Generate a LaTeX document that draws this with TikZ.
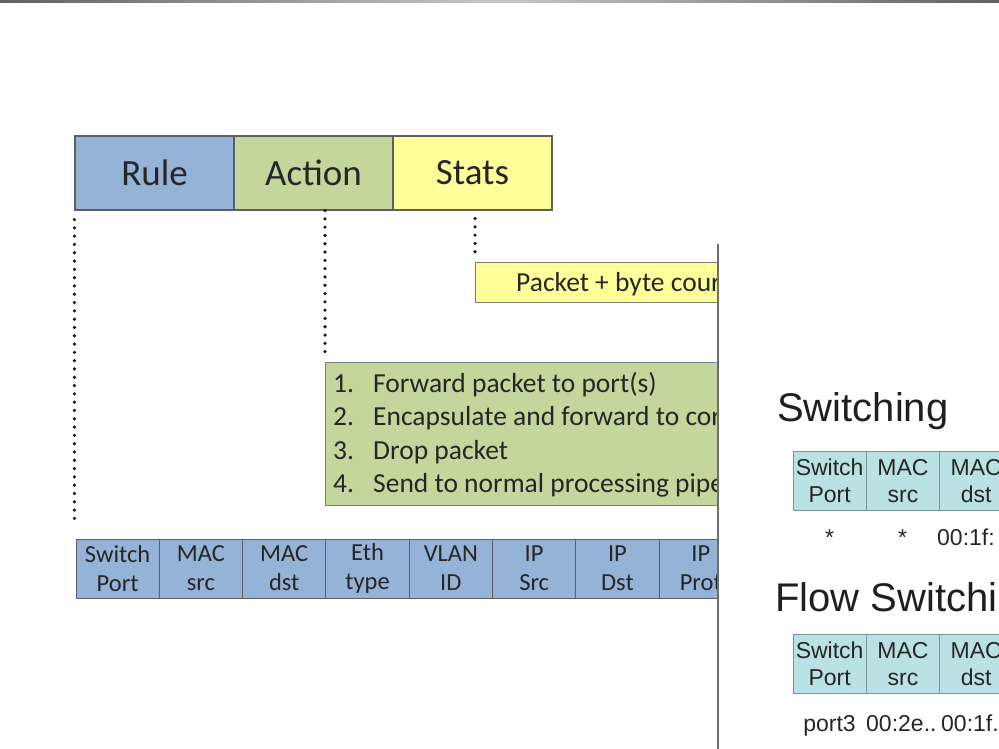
\documentclass[tikz,border=0pt]{standalone}
\usepackage{fontspec}
\newfontfamily\carlito{Carlito}
\newfontfamily\arialf{Liberation Sans}
\definecolor{ruleblue}{RGB}{149,179,215}
\definecolor{actgreen}{RGB}{195,214,155}
\definecolor{statyellow}{RGB}{255,255,153}
\definecolor{bordergray}{RGB}{95,95,95}
\definecolor{boxgray}{RGB}{125,125,125}
\definecolor{txtdark}{RGB}{38,38,38}
\definecolor{dotgray}{RGB}{25,25,25}
\definecolor{cyanfill}{RGB}{186,226,228}
\definecolor{cyanborder}{RGB}{120,150,150}
\definecolor{divgray}{RGB}{110,110,110}
\begin{document}
\begin{tikzpicture}[x=1pt,y=-1pt,
  topbox/.style={draw=bordergray, line width=1.1pt, minimum width=159, minimum height=74, inner sep=0pt,
    font=\carlito\fontsize{37}{44}\selectfont, text=txtdark},
  fieldcell/.style={draw=bordergray, line width=1pt, fill=ruleblue, minimum width=83.3, minimum height=59, inner sep=0pt,
    align=center, font=\carlito\fontsize{24.5}{29}\selectfont, text=txtdark},
  infobox/.style={draw=boxgray, line width=1pt, inner sep=0pt},
  listtext/.style={anchor=base west, inner sep=0pt, font=\carlito\fontsize{27.5}{33}\selectfont, text=txtdark},
  dotline/.style={line width=3.6pt, line cap=round, dash pattern=on 0pt off 8.3pt, draw=dotgray},
  swcell/.style={draw=cyanborder, line width=1pt, fill=cyanfill, minimum width=73.3, minimum height=59, inner sep=0pt,
    align=center, font=\arialf\fontsize{23}{27.5}\selectfont, text=black!85},
  heading/.style={anchor=base west, inner sep=0pt, font=\arialf\fontsize{40}{48}\selectfont, text=black!88},
  valtext/.style={anchor=base, inner sep=0pt, font=\arialf\fontsize{23}{27}\selectfont, text=black!85}
]
\useasboundingbox (0,0) rectangle (999,749);
\fill[white] (0,0) rectangle (999,749);
\shade[left color=black!62, right color=black!62, middle color=black!22] (0,0) rectangle (999,2.5);

% ---------- left slide ----------
\begin{scope}
\clip (0,2.5) -- (999,2.5) -- (999,244) -- (718,244) -- (718,749) -- (0,749) -- cycle;
\node[topbox, fill=ruleblue] (rule) at (154.5,173) {Rule};
\node[topbox, fill=actgreen] (action) at (313.5,173) {Action};
\node[topbox, fill=statyellow] (stats) at (472.5,173) {Stats};

\node[infobox, fill=statyellow, anchor=west, minimum height=40, minimum width=290] (packet) at (475,282) {};
\node[anchor=base west, inner sep=0pt, font=\carlito\fontsize{27.5}{33}\selectfont, text=txtdark] (packettext) at (516,291) {Packet + byte cour};

\node[infobox, fill=actgreen, anchor=north west, minimum width=440, minimum height=143] (actlist) at (325,362) {};
\node[listtext] (item1) at (333,392) {\makebox[40pt][l]{1.}Forward packet to port(s)};
\node[listtext] (item2) at (333,425.5) {\makebox[40pt][l]{2.}Encapsulate and forward to cor};
\node[listtext] (item3) at (333,459) {\makebox[40pt][l]{3.}Drop packet};
\node[listtext] (item4) at (333,492.5) {\makebox[40pt][l]{4.}Send to normal processing pipe};

\foreach \t [count=\i] in {{Switch\\Port},{MAC\\src},{MAC\\dst},{Eth\\type},{VLAN\\ID},{IP\\Src},{IP\\Dst},{IP\\Prot}}{
  \node[fieldcell] (f\i) at ({76+(\i-0.5)*83.3},568.5) {\t};
}

\draw[dotline, shorten <=9pt, shorten >=12pt] (rule.south west) -- (rule.south west |- f1.north);
\draw[dotline, shorten >=10pt] (action.south -| actlist.west) -- (actlist.north west);
\draw[dotline, shorten <=8pt, shorten >=9pt] (stats.south -| packet.west) -- (packet.north west);
\end{scope}

% ---------- right slide ----------
\begin{scope}
\clip (718,244) rectangle (999,749);
\fill[white] (718,244) rectangle (999,749);
\node[heading] (hsw) at (777,421) {Switching};
\foreach \t [count=\i] in {{Switch\\Port},{MAC\\src},{MAC\\dst}}{
  \node[swcell] (s\i) at ({793+(\i-0.5)*73.3},481) {\t};
}
\node[valtext] (v1) at (829.5,545) {*};
\node[valtext] (v2) at (902.5,545) {*};
\node[valtext, anchor=base west] (v3) at (937,545) {00:1f:};

\node[heading] (hflow) at (775,611) {Flow Switchi};
\foreach \t [count=\i] in {{Switch\\Port},{MAC\\src},{MAC\\dst}}{
  \node[swcell] (t\i) at ({793+(\i-0.5)*73.3},664) {\t};
}
\node[valtext] (w1) at (829.5,731) {port3};
\node[valtext, anchor=base west] (w2) at (866,731) {00:2e..};
\node[valtext, anchor=base west] (w3) at (941,731) {00:1f.};
\end{scope}
\draw[divgray, line width=1.5pt] (718,244) -- (718,749);
\end{tikzpicture}
\end{document}
